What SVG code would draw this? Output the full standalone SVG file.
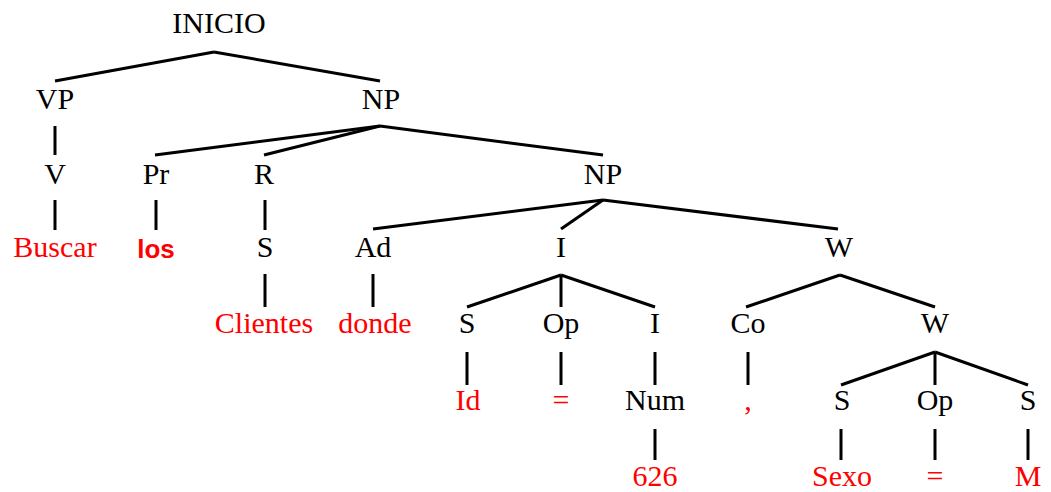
<svg xmlns="http://www.w3.org/2000/svg" width="1051" height="492" viewBox="0 0 1051 492">
<style>
text{font-size:30px;text-anchor:middle;fill:#000}
.t{fill:#ff0000}
.b{font-weight:bold;font-size:26px}
#edges line{stroke:#000;stroke-width:3;stroke-linecap:butt}
</style>
<rect width="1051" height="492" fill="#fff"/>
<g id="edges">
<line x1="214" y1="52" x2="55" y2="81"/>
<line x1="214" y1="52" x2="380" y2="81"/>
<line x1="55" y1="126" x2="55" y2="155"/>
<line x1="380" y1="126" x2="155" y2="155"/>
<line x1="380" y1="126" x2="264" y2="155"/>
<line x1="380" y1="126" x2="603" y2="155"/>
<line x1="55" y1="200" x2="55" y2="230"/>
<line x1="156" y1="200" x2="156" y2="230"/>
<line x1="265" y1="200" x2="265" y2="230"/>
<line x1="603" y1="200" x2="373" y2="229"/>
<line x1="603" y1="200" x2="561" y2="229"/>
<line x1="603" y1="200" x2="838" y2="229"/>
<line x1="265" y1="274" x2="265" y2="307"/>
<line x1="373" y1="274" x2="373" y2="307"/>
<line x1="561" y1="275" x2="467" y2="307"/>
<line x1="561" y1="275" x2="561" y2="307"/>
<line x1="561" y1="275" x2="655" y2="307"/>
<line x1="840" y1="275" x2="746" y2="307"/>
<line x1="840" y1="275" x2="935" y2="307"/>
<line x1="467" y1="352" x2="467" y2="385"/>
<line x1="561" y1="352" x2="561" y2="385"/>
<line x1="655" y1="352" x2="655" y2="385"/>
<line x1="748" y1="352" x2="748" y2="385"/>
<line x1="935" y1="352" x2="841" y2="385"/>
<line x1="935" y1="352" x2="935" y2="385"/>
<line x1="935" y1="352" x2="1028" y2="385"/>
<line x1="655" y1="429" x2="655" y2="460"/>
<line x1="841" y1="429" x2="841" y2="460"/>
<line x1="935" y1="429" x2="935" y2="460"/>
<line x1="1028" y1="429" x2="1028" y2="460"/>
</g>
<g font-family="Liberation Serif, serif">
<g id="n-inicio"><text x="219" y="33">INICIO</text></g>
<g id="n-vp"><text x="55" y="109">VP</text></g>
<g id="n-np1"><text x="381" y="109">NP</text></g>
<g id="n-v"><text x="55" y="184">V</text></g>
<g id="n-pr"><text x="156" y="184">Pr</text></g>
<g id="n-r"><text x="264" y="184">R</text></g>
<g id="n-np2"><text x="603" y="184">NP</text></g>
<g id="n-buscar"><text class="t" x="55" y="257">Buscar</text></g>
<g id="n-los"><text class="t b" x="156" y="258" font-family="Liberation Sans, sans-serif">los</text></g>
<g id="n-s1"><text x="265" y="257">S</text></g>
<g id="n-ad"><text x="373" y="257">Ad</text></g>
<g id="n-i1"><text x="561" y="257">I</text></g>
<g id="n-w1"><text x="839" y="257">W</text></g>
<g id="n-clientes"><text class="t" x="264" y="333">Clientes</text></g>
<g id="n-donde"><text class="t" x="375" y="333">donde</text></g>
<g id="n-s2"><text x="467" y="333">S</text></g>
<g id="n-op1"><text x="561" y="333">Op</text></g>
<g id="n-i2"><text x="655" y="333">I</text></g>
<g id="n-co"><text x="748" y="333">Co</text></g>
<g id="n-w2"><text x="935" y="333">W</text></g>
<g id="n-id"><text class="t" x="468" y="410">Id</text></g>
<g id="n-eq1"><text class="t" x="561" y="410">=</text></g>
<g id="n-num"><text x="655" y="410">Num</text></g>
<g id="n-comma"><text class="t" x="748" y="410">,</text></g>
<g id="n-s3"><text x="842" y="410">S</text></g>
<g id="n-op2"><text x="935" y="410">Op</text></g>
<g id="n-s4"><text x="1028" y="410">S</text></g>
<g id="n-626"><text class="t" x="655" y="486">626</text></g>
<g id="n-sexo"><text class="t" x="842" y="486">Sexo</text></g>
<g id="n-eq2"><text class="t" x="935" y="486">=</text></g>
<g id="n-m"><text class="t" x="1028" y="486">M</text></g>
</g>
</svg>
